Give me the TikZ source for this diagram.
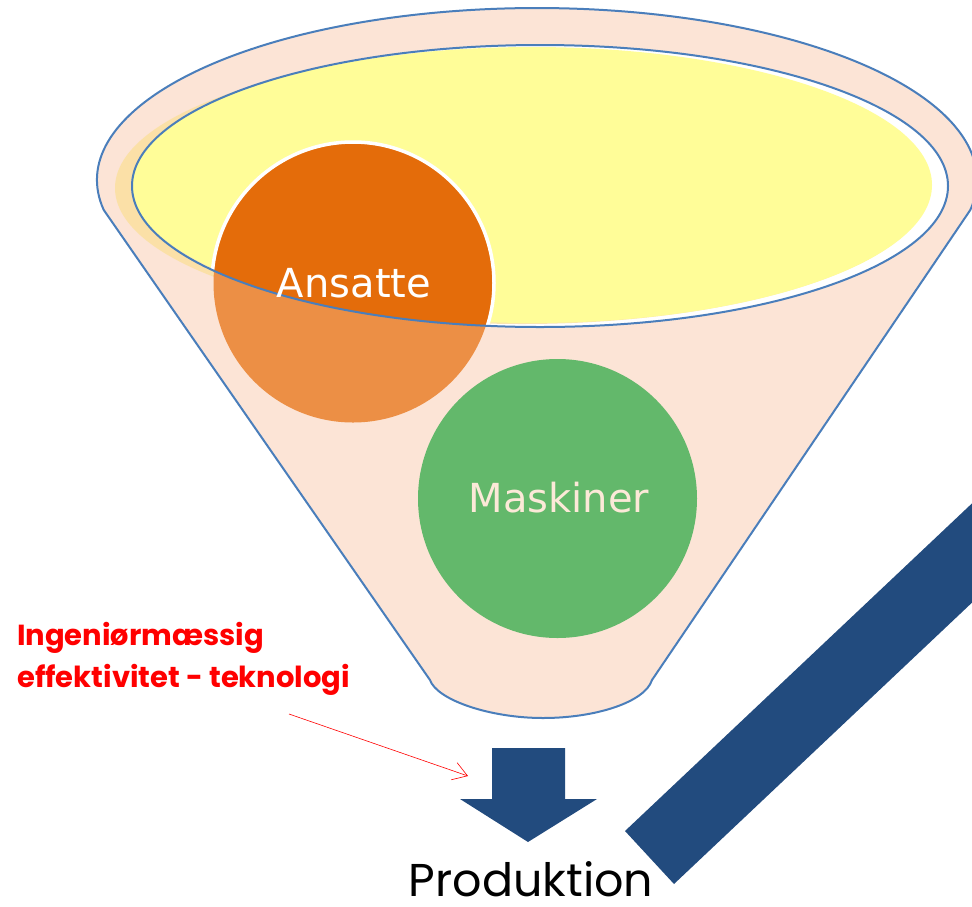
\documentclass[tikz,border=0pt]{standalone}
\usepackage{fontspec}
\newfontfamily\dejavu{DejaVu Sans}
\newfontfamily\pop{Poppins}
\usetikzlibrary{arrows.meta}
\definecolor{peach}{HTML}{FCE4D6}
\definecolor{rimblue}{HTML}{4A7EBB}
\definecolor{lemon}{HTML}{FFFD98}
\definecolor{glow}{HTML}{FBE09C}
\definecolor{orangedark}{HTML}{E46C0A}
\definecolor{orangelight}{HTML}{EC8F45}
\definecolor{leaf}{HTML}{63B86B}
\definecolor{navy}{HTML}{224B7E}
\definecolor{cream}{HTML}{FCE9D8}
\definecolor{alertred}{HTML}{FF0000}
\begin{document}
\begin{tikzpicture}[x=1pt,y=-1pt,
  rim/.style={draw=rimblue,line width=2pt},
  bubble/.style={circle,minimum size=279pt,inner sep=0pt},
  bubbletext/.style={font=\dejavu\fontsize{40}{40}\selectfont,inner sep=0pt,anchor=base},
  navyfill/.style={fill=navy,draw=none}]
\useasboundingbox (0,0) rectangle (972,906);
\clip (0,0) rectangle (972,906);

% funnel body
\filldraw[fill=peach,rim,line join=round]
  (103.7,209.9) arc[start angle=170,end angle=370,x radius=440,y radius=172]
  -- (652,680) .. controls (645,702) and (596,718) .. (543,718)
  .. controls (490,718) and (437,700) .. (430,680) -- cycle;

% inner opening
\fill[white] (540,186) ellipse[x radius=408,y radius=141];
\fill[glow,opacity=0.8] (522,188) ellipse[x radius=407,y radius=136];
\fill[lemon] (532,185) ellipse[x radius=400,y radius=138];

% Ansatte bubble
\node[bubble,fill=orangelight] (ansatte) at (353,283) {};
\begin{scope}
  \clip (540,186) ellipse[x radius=408,y radius=141];
  \fill[orangedark] (ansatte.center) circle[radius=139.5];
  \draw[white,line width=3.5pt] (ansatte.center) circle[radius=141];
\end{scope}
\draw[rim] (540,186) ellipse[x radius=408,y radius=141];
\node[bubbletext,text=white] (ansattetext) at (354,297) {Ansatte};

% Maskiner bubble
\node[bubble,fill=leaf] (maskiner) at (557.5,498.5) {};
\node[bubbletext,text=cream] (maskinertext) at (559,512) {Maskiner};

% label
\node[anchor=north west,inner sep=0pt,align=left,text=alertred,
      font=\pop\bfseries\fontsize{29}{42}\selectfont] (label) at (17,622)
      {Ingeniørmæssig\\effektivitet - teknologi};

% production arrow
\coordinate (arrowtop) at (528,748);
\fill[navyfill] (492,748) -- (565,748) -- (565,799) -- (597,799) -- (528,842)
  -- (460,799) -- (492,799) -- cycle;
\coordinate (arrowhit) at (468,776);
\coordinate (labelfoot) at (289,714);
\draw[alertred,line width=0.6pt,-{Straight Barb[length=14pt,width=18pt,line width=0.6pt]}]
  (labelfoot) -- (arrowhit);

\node[anchor=base,inner sep=0pt,font=\pop\fontsize{46}{46}\selectfont] (produktion) at (531,896) {Produktion};

% diagonal bar
\fill[navyfill] (625,831) -- (674,884) -- (1050,529) -- (1001,476) -- cycle;
\end{tikzpicture}
\end{document}
